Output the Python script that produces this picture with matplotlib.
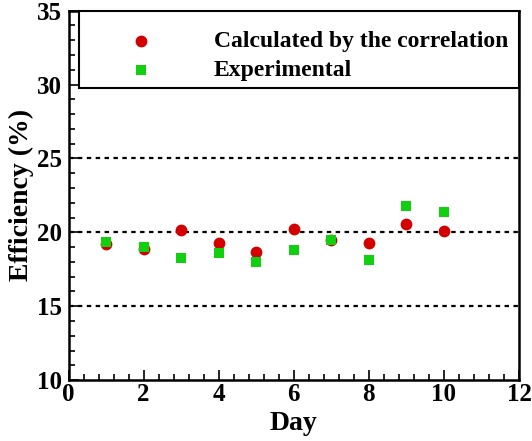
import matplotlib
matplotlib.use("Agg")
import matplotlib.pyplot as plt
from matplotlib.patches import Rectangle
from matplotlib.ticker import MultipleLocator

days = [1, 2, 3, 4, 5, 6, 7, 8, 9, 10]
calculated = [19.2, 18.85, 20.15, 19.3, 18.7, 20.25, 19.45, 19.25, 20.55, 20.1]
experimental = [19.35, 19.0, 18.25, 18.6, 18.0, 18.8, 19.5, 18.15, 21.8, 21.4]
ref_lines = [15, 20, 25]

plt.rcParams["font.family"] = ["Liberation Serif", "DejaVu Serif"]
plt.rcParams["font.weight"] = "bold"

fig = plt.figure(figsize=(5.32, 4.41), dpi=100)
ax = fig.add_axes([0.1288, 0.138, 0.9756 - 0.1288, 0.9757 - 0.138])

for y in ref_lines:
    ax.axhline(y, color="black", lw=1.6, ls=(0, (2, 2)), zorder=1)

ax.scatter(days, calculated, s=72, marker="o", color="#d40000", zorder=3,
           linewidths=0, label="Calculated by the correlation")
ax.scatter(days, experimental, s=44, marker="s", color="#10d010", zorder=4,
           linewidths=0, label="Experimental")

ax.set_xlim(0, 12)
ax.set_ylim(10, 35)
ax.xaxis.set_major_locator(MultipleLocator(2))
ax.xaxis.set_minor_locator(MultipleLocator(0.4))
ax.yaxis.set_major_locator(MultipleLocator(5))
ax.yaxis.set_minor_locator(MultipleLocator(1))
ax.tick_params(which="both", direction="in", top=False, right=False,
               width=1.2, labelsize=18)
ax.tick_params(which="major", length=7)
ax.tick_params(which="minor", length=4)
ax.tick_params(axis="x", which="major", pad=2)
ax.tick_params(axis="y", which="major", pad=5)
for lab in ax.get_xticklabels() + ax.get_yticklabels():
    lab.set_fontweight("bold")
for s in ax.spines.values():
    s.set_linewidth(1.8)

ax.set_xlabel("Day", fontsize=20, fontweight="bold", labelpad=4)
ax.set_ylabel("Efficiency (%)", fontsize=20, fontweight="bold", labelpad=2)

# legend box (frame drawn separately so its size matches the original)
ax.add_patch(Rectangle((0.0233, 0.791), 0.9767, 0.2085, transform=ax.transAxes,
                       facecolor="white", edgecolor="black", lw=1.5,
                       zorder=5, clip_on=False))
leg = ax.legend(loc="upper left", bbox_to_anchor=(0.134, 0.947),
                fontsize=17, frameon=False, borderaxespad=0, borderpad=0,
                handletextpad=2.6, labelspacing=0.33, handlelength=1.0,
                scatterpoints=1)
leg.set_zorder(6)
for t in leg.get_texts():
    t.set_fontweight("bold")

fig.savefig("out.png", dpi=100)
